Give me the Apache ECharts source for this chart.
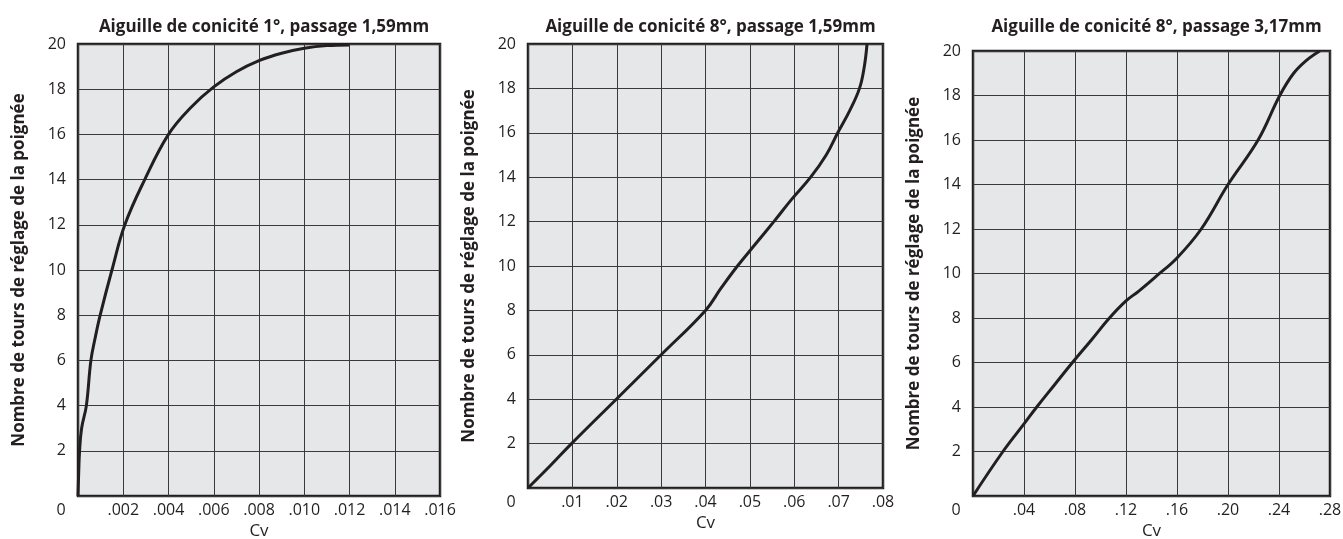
<!DOCTYPE html>
<html>
<head>
<meta charset="utf-8">
<script src="https://cdn.jsdelivr.net/npm/echarts@6/dist/echarts.min.js"></script>
<style>
  html, body { margin: 0; padding: 0; background: #fff; }
  #main { width: 1343px; height: 539px; }
</style>
</head>
<body>
<div id="main"></div>
<script>
// titres des trois abaques
var titles = [
    'Aiguille de conicité 1°, passage 1,59mm',
    'Aiguille de conicité 8°, passage 1,59mm',
    'Aiguille de conicité 8°, passage 3,17mm'
];
var yName = 'Nombre de tours de réglage de la poignée';
var xName = 'Cv';

// graduations
var yTicks = ['', '2', '4', '6', '8', '10', '12', '14', '16', '18', '20'];
var xTicks1 = ['0', '.002', '.004', '.006', '.008', '.010', '.012', '.014', '.016'];
var xTicks2 = ['0', '.01', '.02', '.03', '.04', '.05', '.06', '.07', '.08'];
var xTicks3 = ['0', '.04', '.08', '.12', '.16', '.20', '.24', '.28'];

// courbe 1 : conicité 1°, 1,59mm  [Cv, tours]
var cv1 = [0, 0.00003, 0.00007, 0.00016, 0.00037, 0.00057, 0.00076, 0.00098, 0.0015, 0.00207, 0.00295, 0.004, 0.005, 0.006, 0.007, 0.008, 0.009, 0.010, 0.011, 0.012];
var tours1 = [0, 1, 2, 3, 4, 6, 7, 8, 10, 12, 14, 16, 17.2, 18.1, 18.77, 19.26, 19.59, 19.81, 19.93, 19.96];

// courbe 2 : conicité 8°, 1,59mm
var cv2 = [0, 0.002, 0.005, 0.0098, 0.0199, 0.030, 0.040, 0.0435, 0.0472, 0.0513, 0.0554, 0.0594, 0.0637, 0.0672, 0.0698, 0.0725, 0.0747, 0.0758, 0.0764];
var tours2 = [0, 0.4, 1, 2, 4, 6, 8, 9, 10, 11, 12, 13, 14, 15, 16, 17, 18, 19, 20];

// courbe 3 : conicité 8°, 3,17mm
var cv3 = [0, 0.0235, 0.04, 0.05, 0.064, 0.078, 0.0927, 0.107, 0.12, 0.1298, 0.1438, 0.16, 0.179, 0.2, 0.2236, 0.2406, 0.2515, 0.262, 0.272];
var tours3 = [0, 2, 3.24, 4, 5, 6, 7, 8, 8.77, 9.2, 9.88, 10.7, 12, 14, 16, 18, 19, 19.6, 20];

function pairs(xs, ys) {
    var out = [];
    for (var i = 0; i < xs.length; i++) out.push([xs[i], ys[i]]);
    return out;
}

var FONT = '"Open Sans", sans-serif';
var INK = '#231f20';

// positions des trois zones de tracé
var grids = [
    { left: 78, top: 44, width: 362, height: 452 },
    { left: 528, top: 44, width: 355, height: 444 },
    { left: 973, top: 51, width: 357, height: 445 }
];
var xMax = [0.016, 0.08, 0.28];
var xStep = [0.002, 0.01, 0.04];
var xTickSets = [xTicks1, xTicks2, xTicks3];
var curves = [pairs(cv1, tours1), pairs(cv2, tours2), pairs(cv3, tours3)];

var option = {
    backgroundColor: '#fff',
    animation: false,
    title: [],
    grid: [],
    xAxis: [],
    yAxis: [],
    series: []
};

grids.forEach(function(g, k) {
    option.title.push({
        text: titles[k],
        left: g.left + g.width / 2,
        top: 14,
        textAlign: 'center',
        textStyle: { fontFamily: FONT, fontSize: 17, fontWeight: 'bold', color: INK }
    });
    option.grid.push({
        left: g.left, top: g.top, width: g.width, height: g.height,
        outerBoundsMode: 'none',
        containLabel: false,
        show: true,
        backgroundColor: '#e6e7e8',
        borderColor: INK,
        borderWidth: 2.5
    });
    option.xAxis.push({
        type: 'value',
        gridIndex: k,
        min: 0,
        max: xMax[k],
        interval: xStep[k],
        name: xName,
        nameLocation: 'middle',
        nameGap: 27,
        nameTextStyle: { fontFamily: FONT, fontSize: 17, color: INK },
        axisLine: { show: false },
        axisTick: { show: false },
        splitLine: { lineStyle: { color: '#3a3a3a', width: 1 } },
        axisLabel: {
            margin: 6,
            fontFamily: FONT, fontSize: 16, color: INK,
            formatter: (function(ticks) {
                return function(v, i) {
                    return i === 0 ? '{z|' + ticks[0] + '}' : ticks[i];
                };
            })(xTickSets[k]),
            rich: { z: { fontFamily: FONT, fontSize: 16, color: INK, padding: [0, 34, 0, 0] } }
        }
    });
    option.yAxis.push({
        type: 'value',
        gridIndex: k,
        min: 0,
        max: 20,
        interval: 2,
        name: yName,
        nameLocation: 'middle',
        nameGap: 50,
        nameTextStyle: { fontFamily: FONT, fontSize: 17, fontWeight: 'bold', color: INK },
        axisLine: { show: false },
        axisTick: { show: false },
        splitLine: { lineStyle: { color: '#3a3a3a', width: 1 } },
        axisLabel: {
            margin: 12,
            fontFamily: FONT, fontSize: 16, color: INK,
            formatter: function(v, i) { return yTicks[i]; }
        }
    });
    option.series.push({
        type: 'line',
        xAxisIndex: k,
        yAxisIndex: k,
        data: curves[k],
        showSymbol: false,
        smooth: 0.4,
        lineStyle: { color: INK, width: 3 },
        z: 5
    });
});

var chart = echarts.init(document.getElementById('main'));
chart.setOption(option);
</script>
</body>
</html>
